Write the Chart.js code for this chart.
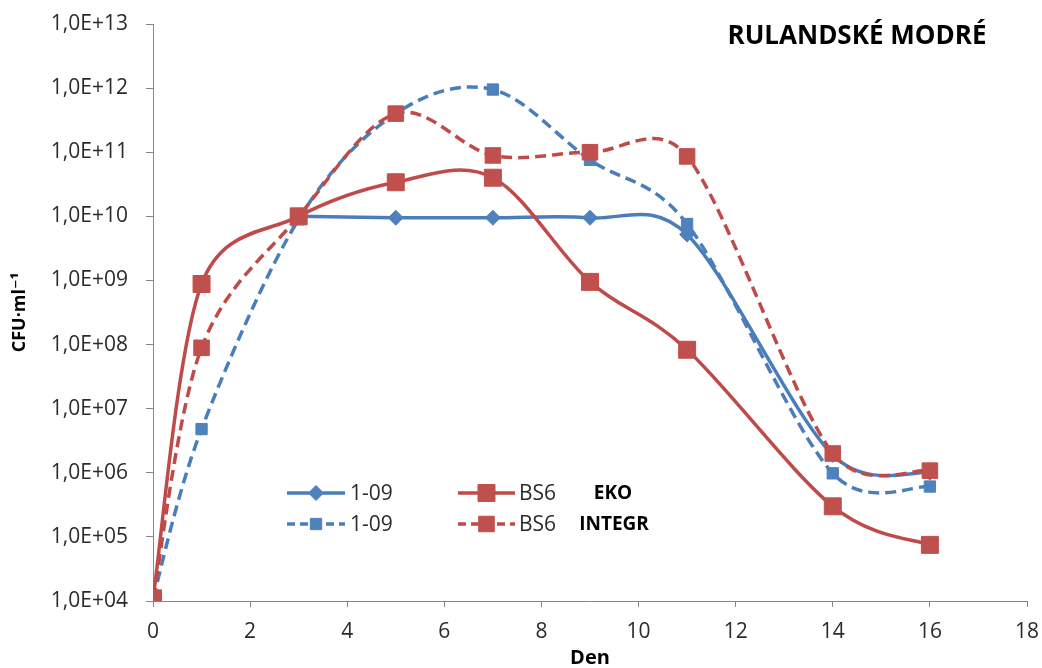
<!DOCTYPE html>
<html>
<head>
<meta charset="utf-8">
<script src="https://cdn.jsdelivr.net/npm/chart.js@4/dist/chart.umd.min.js"></script>
<style>
  html, body { margin: 0; padding: 0; background: #ffffff; }
  canvas { display: block; }
</style>
</head>
<body>
<canvas id="chart" width="1042" height="668"></canvas>
<script>
// Sampling days
const days = [0, 1, 3, 5, 7, 9, 11, 14, 16];

// CFU per ml, EKO variant (null = not sampled)
const eko109 = [null, null, 1.0e10, 9.5e9, 9.5e9, 9.5e9, 5.2e9, 1.9e6, 1.0e6];
const ekoBS6 = [1.1e4, 8.8e8, 1.0e10, 3.4e10, 4.0e10, 9.5e8, 8.3e7, 3.0e5, 7.5e4];

// CFU per ml, INTEGR variant
const integr109 = [1.1e4, 4.8e6, 9.0e9, 4.0e11, 9.5e11, 7.6e10, 7.6e9, 9.8e5, 6.1e5];
const integrBS6 = [1.1e4, 8.9e7, 1.0e10, 4.0e11, 8.9e10, 1.0e11, 8.6e10, 2.0e6, 1.08e6];

// Axis ticks
const yTickValues = [1e4, 1e5, 1e6, 1e7, 1e8, 1e9, 1e10, 1e11, 1e12, 1e13];
const xTickValues = [0, 2, 4, 6, 8, 10, 12, 14, 16, 18];

// Texts
const chartTitle = 'RULANDSKÉ MODRÉ';
const yTitle = 'CFU·ml⁻¹';
const xTitle = 'Den';
const seriesNames = ['1-09', 'BS6'];
const groupNames = ['EKO', 'INTEGR'];

const BLUE = '#4A7EBB';
const BLUE_FILL = '#4F81BD';
const RED = '#BE4B48';
const RED_FILL = '#C0504D';
const FONT = '"Open Sans", "DejaVu Sans", sans-serif';
const AXIS_GREY = '#868686';
const TEXT_GREY = '#2b2b2b';

// "1,0E+13" style labels
function sciLabel(v) {
  const e = Math.round(Math.log10(v));
  const m = v / Math.pow(10, e);
  return m.toFixed(1).replace('.', ',') + 'E' + (e < 0 ? '-' : '+') + String(Math.abs(e)).padStart(2, '0');
}

function pairs(ys) {
  return days.map((d, i) => ({ x: d, y: ys[i] })).filter(p => p.y !== null);
}

const datasets = [
  {
    label: seriesNames[0] + ' ' + groupNames[0],
    data: pairs(eko109),
    borderColor: BLUE, backgroundColor: BLUE_FILL,
    pointBackgroundColor: BLUE_FILL, pointBorderColor: BLUE_FILL,
    borderWidth: 3.5, borderDash: [],
    pointStyle: 'rectRot', pointRadius: 7.5, pointBorderWidth: 1,
    order: 3
  },
  {
    label: seriesNames[1] + ' ' + groupNames[0],
    data: pairs(ekoBS6),
    borderColor: RED, backgroundColor: RED_FILL,
    pointBackgroundColor: RED_FILL, pointBorderColor: RED_FILL,
    borderWidth: 3.5, borderDash: [],
    pointStyle: 'rect', pointRadius: 12, pointBorderWidth: 1,
    order: 1
  },
  {
    label: seriesNames[0] + ' ' + groupNames[1],
    data: pairs(integr109),
    borderColor: BLUE, backgroundColor: BLUE_FILL,
    pointBackgroundColor: BLUE_FILL, pointBorderColor: BLUE_FILL,
    borderWidth: 3.5, borderDash: [11, 6],
    pointStyle: 'rect', pointRadius: 8, pointBorderWidth: 1,
    order: 4
  },
  {
    label: seriesNames[1] + ' ' + groupNames[1],
    data: pairs(integrBS6),
    borderColor: RED, backgroundColor: RED_FILL,
    pointBackgroundColor: RED_FILL, pointBorderColor: RED_FILL,
    borderWidth: 3.5, borderDash: [11, 6],
    pointStyle: 'rect', pointRadius: 11, pointBorderWidth: 1,
    order: 2
  }
];

// Spreadsheet-style smoothing: Bezier handles at 1/6 of the neighbour chord,
// each handle limited to half the length of the segment it shapes
const smoothCurves = {
  id: 'smoothCurves',
  beforeDatasetDraw(chart, args) {
    const meta = args.meta;
    const line = meta.dataset;
    if (!line) return;
    line.updateControlPoints(chart.chartArea, 'x');
    const pts = meta.data;
    const n = pts.length;
    for (let i = 0; i < n; i++) {
      const p = pts[i];
      const prev = pts[Math.max(i - 1, 0)];
      const next = pts[Math.min(i + 1, n - 1)];
      const hx = (next.x - prev.x) / 6;
      const hy = (next.y - prev.y) / 6;
      const hl = Math.hypot(hx, hy) || 1;
      const segPrev = Math.hypot(p.x - prev.x, p.y - prev.y);
      const segNext = Math.hypot(next.x - p.x, next.y - p.y);
      const kPrev = Math.min(1, 0.5 * segPrev / hl);
      const kNext = Math.min(1, 0.5 * segNext / hl);
      p.cp1x = p.x - hx * kPrev; p.cp1y = p.y - hy * kPrev;
      p.cp2x = p.x + hx * kNext; p.cp2y = p.y + hy * kNext;
    }
    line._path = undefined;
  }
};

function drawMarker(ctx, ds, x, y) {
  ctx.save();
  ctx.fillStyle = ds.pointBackgroundColor;
  ctx.strokeStyle = ds.pointBorderColor;
  ctx.lineWidth = ds.pointBorderWidth;
  ctx.setLineDash([]);
  ctx.beginPath();
  const r = ds.pointRadius;
  if (ds.pointStyle === 'rectRot') {
    ctx.moveTo(x - r, y); ctx.lineTo(x, y - r); ctx.lineTo(x + r, y); ctx.lineTo(x, y + r);
  } else {
    const s = Math.SQRT1_2 * r;
    ctx.rect(x - s, y - s, 2 * s, 2 * s);
  }
  ctx.closePath();
  ctx.fill();
  ctx.stroke();
  ctx.restore();
}

// Floating legend inside the plot, plus the chart title
const annotations = {
  id: 'annotations',
  afterDraw(chart) {
    const ctx = chart.ctx;
    const ds = chart.data.datasets;
    const rows = [493, 524];
    const cols = [{ x0: 287, x1: 345, tx: 350 }, { x0: 458, x1: 515, tx: 519 }];
    const entries = [
      { d: ds[0], col: 0, row: 0 },
      { d: ds[1], col: 1, row: 0 },
      { d: ds[2], col: 0, row: 1 },
      { d: ds[3], col: 1, row: 1 }
    ];
    entries.forEach(({ d, col, row }) => {
      const c = cols[col];
      const y = rows[row];
      ctx.save();
      ctx.strokeStyle = d.borderColor;
      ctx.lineWidth = d.borderWidth;
      ctx.setLineDash(d.borderDash && d.borderDash.length ? [8, 5] : []);
      ctx.lineCap = 'butt';
      ctx.beginPath();
      ctx.moveTo(c.x0, y);
      ctx.lineTo(c.x1, y);
      ctx.stroke();
      ctx.restore();
      drawMarker(ctx, d, (c.x0 + c.x1) / 2, y);
      ctx.save();
      ctx.fillStyle = TEXT_GREY;
      ctx.font = '21px ' + FONT;
      ctx.textAlign = 'left';
      ctx.textBaseline = 'middle';
      ctx.fillText(seriesNames[col], c.tx, y + 1);
      ctx.restore();
    });
    ctx.save();
    ctx.fillStyle = '#000';
    ctx.font = 'bold 19px ' + FONT;
    ctx.textAlign = 'center';
    ctx.textBaseline = 'middle';
    ctx.fillText(groupNames[0], 613, rows[0] + 1);
    ctx.fillText(groupNames[1], 614, rows[1] + 1);
    ctx.font = 'bold 26px ' + FONT;
    ctx.textAlign = 'center';
    ctx.textBaseline = 'alphabetic';
    ctx.fillText(chartTitle, 857, 44);
    ctx.restore();
  }
};

new Chart(document.getElementById('chart'), {
  type: 'line',
  data: { datasets },
  options: {
    responsive: false,
    animation: false,
    events: [],
    layout: { padding: { left: 0, right: 15, top: 24, bottom: 0 } },
    elements: { line: { tension: 0.4, fill: false } },
    plugins: {
      legend: { display: false },
      tooltip: { enabled: false },
      title: { display: false }
    },
    scales: {
      x: {
        type: 'linear',
        min: 0,
        max: 18,
        afterBuildTicks: (scale) => { scale.ticks = xTickValues.map(v => ({ value: v })); },
        afterFit: (scale) => {
          scale.height = 67;
          scale.paddingLeft = 0;
          scale.paddingRight = 0;
        },
        ticks: {
          color: TEXT_GREY,
          font: { family: FONT, size: 21 },
          padding: 12,
          maxRotation: 0,
          autoSkip: false
        },
        grid: { drawOnChartArea: false, drawTicks: true, tickLength: 6, color: AXIS_GREY, lineWidth: 1 },
        border: { display: true, color: AXIS_GREY, width: 1 },
        title: {
          display: true,
          text: xTitle,
          color: '#000',
          font: { family: FONT, size: 20, weight: 'bold', lineHeight: 1.0 },
          padding: { top: 0, bottom: 0 }
        }
      },
      y: {
        type: 'logarithmic',
        min: 1e4,
        max: 1e13,
        afterBuildTicks: (scale) => { scale.ticks = yTickValues.map(v => ({ value: v })); },
        afterFit: (scale) => {
          scale.width = 153;
          scale.paddingTop = 0;
          scale.paddingBottom = 0;
        },
        ticks: {
          color: TEXT_GREY,
          font: { family: FONT, size: 21 },
          padding: 18,
          autoSkip: false,
          callback: (v) => sciLabel(v)
        },
        grid: { drawOnChartArea: false, drawTicks: true, tickLength: 7, color: AXIS_GREY, lineWidth: 1 },
        border: { display: true, color: AXIS_GREY, width: 1 },
        title: {
          display: true,
          text: yTitle,
          color: '#000',
          font: { family: FONT, size: 18, weight: 'bold', lineHeight: 1.2 },
          padding: { top: 9, bottom: 0 }
        }
      }
    }
  },
  plugins: [smoothCurves, annotations]
});
</script>
</body>
</html>
